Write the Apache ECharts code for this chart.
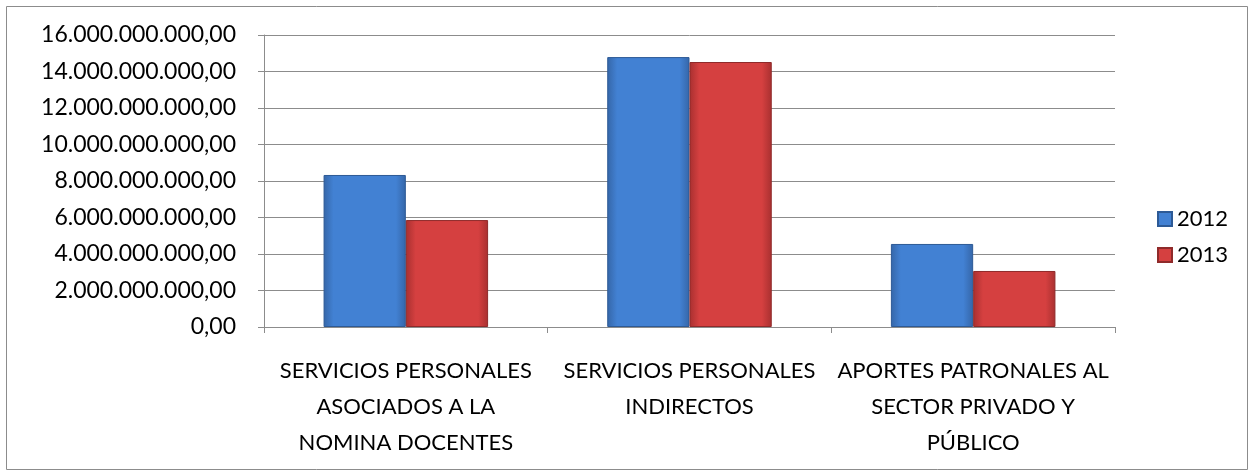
<!DOCTYPE html>
<html><head><meta charset="utf-8">
<script src="https://cdn.jsdelivr.net/npm/echarts@6/dist/echarts.min.js"></script>
<style>html,body{margin:0;padding:0;background:#fff}#c{width:1254px;height:476px}</style>
</head><body><div id="c"></div>
<script>
const categories = ["SERVICIOS PERSONALES\nASOCIADOS A LA\nNOMINA DOCENTES", "SERVICIOS PERSONALES\nINDIRECTOS", "APORTES PATRONALES AL\nSECTOR PRIVADO Y\nPÚBLICO"];
const seriesNames = ["2012", "2013"];
const values2012 = [8330000000, 14790000000, 4550000000];
const values2013 = [5860000000, 14520000000, 3070000000];
const yTicks = {min: 0, max: 16000000000, interval: 2000000000};

function fmt(v) {
  const s = Math.round(v).toString().replace(/\B(?=(\d{3})+(?!\d))/g, '.');
  return s === '0' ? '0,00' : s + ',00';
}
const font = 'Lato, "Open Sans", sans-serif';
function grad(c1, c2) {
  return new echarts.graphic.LinearGradient(0, 0, 1, 0, [
    {offset: 0, color: c1}, {offset: 0.12, color: c2}, {offset: 0.88, color: c2}, {offset: 1, color: c1}
  ]);
}
const chart = echarts.init(document.getElementById('c'));
chart.setOption({
  animation: false,
  graphic: [{type: 'rect', shape: {x: 6.5, y: 6.5, width: 1241, height: 463}, style: {fill: 'none', stroke: '#8c8c8c', lineWidth: 1}}],
  grid: {left: 264, right: 139, top: 35, bottom: 149},
  legend: {
    orient: 'vertical', left: 1157, top: 208, padding: 0, itemWidth: 14, itemHeight: 14, itemGap: 14,
    icon: 'rect',
    textStyle: {fontFamily: font, fontSize: 22, color: '#000'},
    data: seriesNames
  },
  xAxis: {
    type: 'category', data: categories,
    axisLine: {lineStyle: {color: '#8c8c8c'}},
    axisTick: {show: true, length: 6, lineStyle: {color: '#8c8c8c'}},
    axisLabel: {interval: 0, fontFamily: font, fontSize: 22, color: '#000', lineHeight: 36, margin: 26}
  },
  yAxis: {
    type: 'value', min: yTicks.min, max: yTicks.max, interval: yTicks.interval,
    axisLine: {show: true, lineStyle: {color: '#8c8c8c'}},
    axisTick: {show: true, length: 6, lineStyle: {color: '#8c8c8c'}},
    splitLine: {lineStyle: {color: '#8c8c8c'}},
    axisLabel: {fontFamily: font, fontSize: 23, color: '#000', margin: 28, formatter: fmt}
  },
  series: [
    {name: seriesNames[0], type: 'bar', data: values2012, barGap: '0%', barCategoryGap: '42%',
     itemStyle: {color: grad('#3566a8', '#4281d3'), borderColor: '#2d5a96', borderWidth: 1}},
    {name: seriesNames[1], type: 'bar', data: values2013,
     itemStyle: {color: grad('#a83030', '#d54040'), borderColor: '#8f2a2a', borderWidth: 1}}
  ]
});
</script></body></html>
